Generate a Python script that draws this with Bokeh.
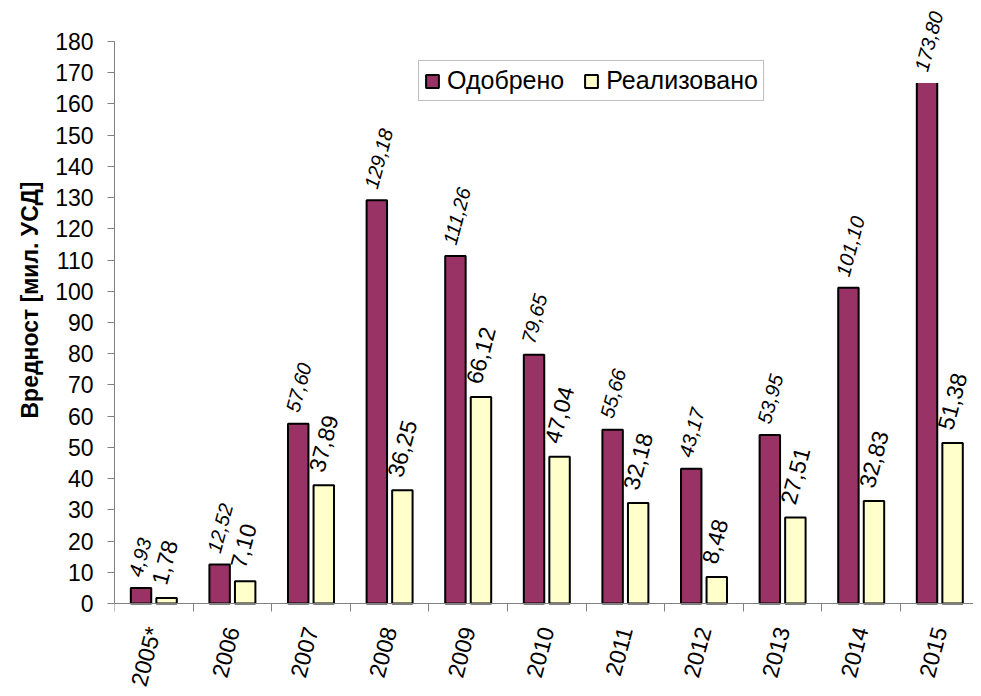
import numpy as np
from bokeh.plotting import figure
from bokeh.models import ColumnDataSource, Range1d, FixedTicker, LabelSet, Title
from bokeh.transform import dodge
from bokeh.core.properties import value
from bokeh.embed import file_html
from bokeh.resources import INLINE

years = ["2005*", "2006", "2007", "2008", "2009", "2010", "2011", "2012", "2013", "2014", "2015"]
odobreno = [4.93, 12.52, 57.60, 129.18, 111.26, 79.65, 55.66, 43.17, 53.95, 101.10, 173.80]
realizovano = [1.78, 7.10, 37.89, 36.25, 66.12, 47.04, 32.18, 8.48, 27.51, 32.83, 51.38]
y_ticks = list(range(0, 181, 10))
y_axis_max = 180
y_title = "Вредност [мил. УСД]"

FONT = "Liberation Sans"
C_OD = "#993366"
C_RE = "#FFFFCC"

n = len(years)
xc = np.arange(n) + 0.5
fmt = lambda v: f"{v:.2f}".replace(".", ",")

W, H = 973, 688
LEFT, TOP = 114, 8
PX_PER_UNIT = 562.0 / y_axis_max      # 180 at 41px, 0 at 603px
PX_PER_CAT = 78.6
y_view_top = (603 - TOP) / PX_PER_UNIT
y_view_bottom = -(H - 603) / PX_PER_UNIT

# label anchor kept inside the chart area (as the original does)
label_cap = 166.7

src = ColumnDataSource(dict(
    x=xc,
    od=odobreno,
    re=realizovano,
    od_lab=[fmt(v) for v in odobreno],
    re_lab=[fmt(v) for v in realizovano],
    od_ly=np.minimum(odobreno, label_cap),
    re_ly=realizovano,
))

p = figure(width=W, height=H, output_backend="svg", toolbar_location=None,
           x_range=Range1d(0, (W - LEFT) / PX_PER_CAT),
           y_range=Range1d(y_view_bottom, y_view_top),
           min_border_left=LEFT, min_border_right=0, min_border_top=TOP, min_border_bottom=0)
p.outline_line_color = None
p.xgrid.visible = False
p.ygrid.visible = False
p.background_fill_color = "white"

off = 0.1625
bw = 0.26
p.vbar(x=dodge("x", -off, range=p.x_range), top="od", bottom=0, width=bw, source=src,
       fill_color=C_OD, line_color="black", line_width=2, legend_label="Одобрено")
p.vbar(x=dodge("x", off, range=p.x_range), top="re", bottom=0, width=bw, source=src,
       fill_color=C_RE, line_color="black", line_width=2, legend_label="Реализовано")

# white box behind a label that had to be pulled inside the chart area
clipped = [i for i, v in enumerate(odobreno) if v > label_cap]
cover = ColumnDataSource(dict(
    left=[xc[i] - off - 0.23 for i in clipped],
    right=[xc[i] - off + 0.39 for i in clipped],
    bottom=[label_cap for i in clipped],
    top=[y_view_top for i in clipped],
))
p.quad(left="left", right="right", bottom="bottom", top="top", source=cover,
       fill_color="white", line_color=None)

ang = np.deg2rad(75)
lab_od = LabelSet(x=dodge("x", -off, range=p.x_range), y="od_ly", text="od_lab", source=src,
                  angle=ang, text_align="left", text_baseline="middle",
                  x_offset=-6, y_offset=12,
                  text_font=value(FONT), text_font_size="20px", text_font_style="italic",
                  text_color="black")
lab_re = LabelSet(x=dodge("x", off, range=p.x_range), y="re_ly", text="re_lab", source=src,
                  angle=ang, text_align="left", text_baseline="middle",
                  x_offset=-8, y_offset=14,
                  text_font=value(FONT), text_font_size="23px",
                  text_color="black")
p.add_layout(lab_od)
p.add_layout(lab_re)

# x axis at value 0: labels at category centres, tick marks at category boundaries
xa = p.xaxis[0]
xa.fixed_location = 0
xa.ticker = FixedTicker(ticks=list(xc), minor_ticks=list(range(n + 1)))
xa.major_label_overrides = {float(v): y for v, y in zip(xc, years)}
xa.major_tick_line_color = None
xa.major_tick_out = 0
xa.major_tick_in = 0
xa.minor_tick_out = 8
xa.minor_tick_in = 0
xa.minor_tick_line_color = "#808080"
xa.axis_line_color = "#808080"
xa.major_label_orientation = ang
xa.major_label_standoff = 16
xa.major_label_text_font = FONT
xa.major_label_text_font_size = "23px"
xa.major_label_text_color = "black"

# y axis
ya = p.yaxis[0]
ya.ticker = FixedTicker(ticks=y_ticks)
ya.bounds = (0, y_axis_max)
ya.minor_tick_line_color = None
ya.major_tick_out = 7
ya.major_tick_in = 0
ya.major_tick_line_color = "#808080"
ya.axis_line_color = "#808080"
ya.major_label_standoff = 14
ya.major_label_text_font = FONT
ya.major_label_text_font_size = "23px"
ya.major_label_text_color = "black"

yt = Title(text=y_title, text_font=FONT, text_font_size="23px", text_font_style="bold",
           text_color="black", align="left", offset=270, standoff=20)
p.add_layout(yt, "left")

lg = p.legend[0]
lg.orientation = "horizontal"
lg.location = (304, 587)
lg.label_text_font = FONT
lg.label_text_font_size = "25px"
lg.label_text_color = "black"
lg.glyph_width = 16
lg.glyph_height = 16
lg.label_standoff = 7
lg.spacing = 19
lg.padding = 5
lg.margin = 0
lg.border_line_color = "#808080"
lg.border_line_width = 1
lg.background_fill_color = "white"
lg.background_fill_alpha = 1.0

open("out.html", "w").write(file_html(p, INLINE))
